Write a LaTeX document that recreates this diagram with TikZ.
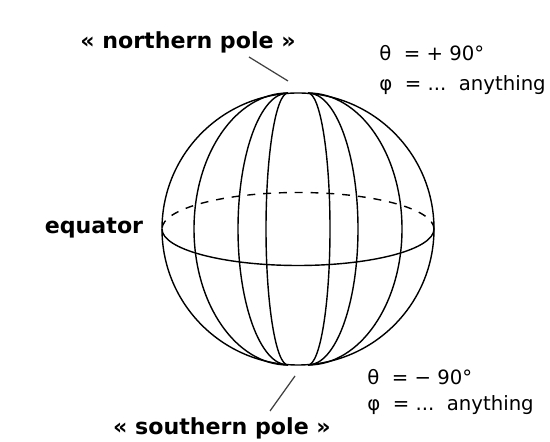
\documentclass[tikz,border=0pt]{standalone}
\usepackage{fontspec}
\setmainfont{DejaVu Sans}
\usetikzlibrary{positioning,calc}
\tikzset{
  sphereline/.style={draw=black,line width=0.8pt},
  backline/.style={draw=black,line width=0.8pt,dash pattern=on 4.5pt off 4.5pt},
  polelabel/.style={font=\fontsize{12.6}{15}\selectfont\bfseries,inner sep=0pt},
  anglelabel/.style={font=\fontsize{11.2}{14}\selectfont,anchor=west,inner sep=0pt},
  leader/.style={draw=black!75,line width=0.7pt}
}

\begin{document}
\begin{tikzpicture}
\useasboundingbox (0,0) rectangle (11,8.84);
\coordinate (O) at (5.96,4.26);
\coordinate (NP) at (5.96,6.98);
\coordinate (SP) at (5.96,1.54);

% outline and equator
\draw[sphereline] (O) circle[radius=2.72];
\draw[backline] ($(O)+(2.72,0)$) arc[start angle=0,end angle=180,x radius=2.72,y radius=0.73];
\draw[sphereline] ($(O)+(-2.72,0)$) arc[start angle=180,end angle=360,x radius=2.72,y radius=0.73];

% meridians
\foreach \r in {0.44,1.00,1.88}{
  \draw[sphereline] ($(NP)+(0.2,0)$) arc[start angle=90,end angle=-90,x radius=\r,y radius=2.72];
  \draw[sphereline] ($(NP)+(-0.2,0)$) arc[start angle=90,end angle=270,x radius=\r,y radius=2.72];
}

% labels
\node[polelabel] (north) at (3.76,8.0) {« northern pole »};
\node[polelabel] (south) at (4.44,0.28) {« southern pole »};
\node[polelabel] (equator) at (1.88,4.28) {equator};

\coordinate (ntail) at (4.98,7.70);
\coordinate (nhead) at (5.76,7.22);
\coordinate (stail) at (5.40,0.62);
\coordinate (shead) at (5.90,1.32);
\draw[leader] (ntail) -- (nhead);
\draw[leader] (stail) -- (shead);

\node[anglelabel] (ntheta) at (7.58,7.78) {θ\ \ = + 90°};
\node[anglelabel] (nphi) at (7.58,7.14) {φ\ \ = ...\ \ anything};
\node[anglelabel] (stheta) at (7.34,1.30) {θ\ \ = − 90°};
\node[anglelabel] (sphi) at (7.34,0.74) {φ\ \ = ...\ \ anything};
\end{tikzpicture}
\end{document}
